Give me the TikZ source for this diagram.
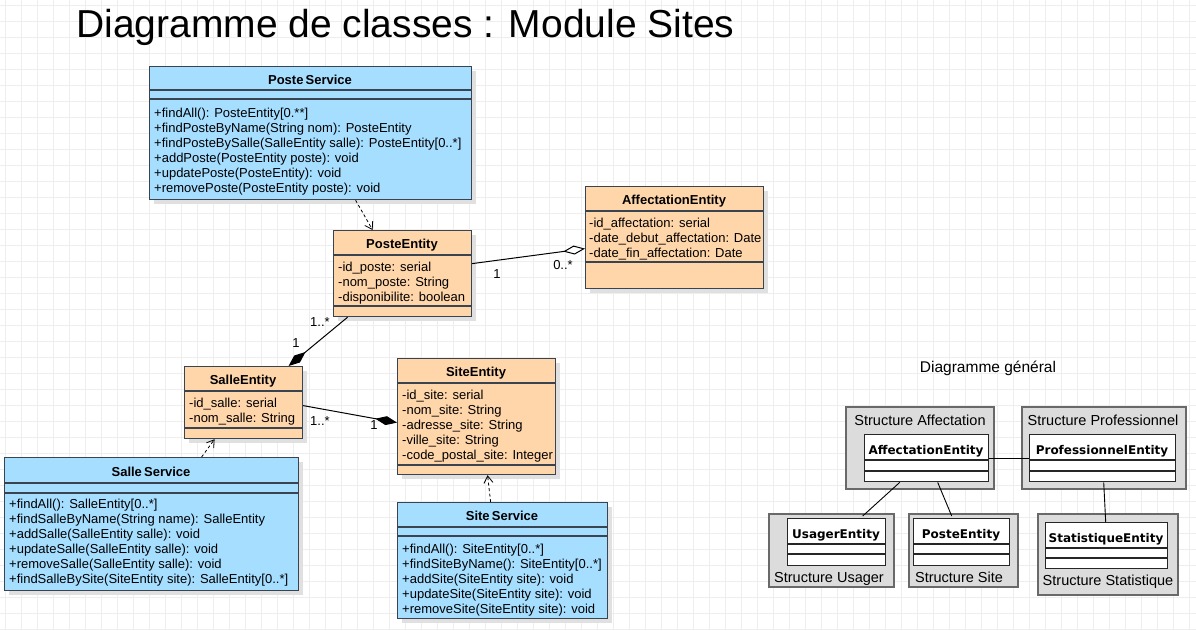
\documentclass[tikz,border=0pt]{standalone}
\usepackage{fontspec}
\setmainfont{Liberation Sans}
\newfontfamily\minifont{DejaVu Sans}
\usepackage{tikz}
\usetikzlibrary{arrows,arrows.meta,shadows,positioning}

\definecolor{srvfill}{RGB}{166,222,255}
\definecolor{entfill}{RGB}{255,213,170}
\definecolor{clsborder}{RGB}{58,68,80}
\definecolor{pkgfill}{RGB}{220,220,220}
\definecolor{pkgborder}{RGB}{105,105,105}
\definecolor{gridgray}{RGB}{238,238,238}

\tikzset{
  cls/.style={draw=clsborder, line width=1.2pt, anchor=north west, inner sep=0pt,
    drop shadow={shadow xshift=4pt, shadow yshift=-4pt, fill=black!12, opacity=1}},
  service/.style={cls, fill=srvfill},
  entity/.style={cls, fill=entfill},
  sepline/.style={draw=clsborder, line width=1.2pt},
  clsname/.style={anchor=base, inner sep=0pt, font=\bfseries\fontsize{13}{15}\selectfont},
  members/.style={anchor=north west, inner sep=0pt, align=left, font=\fontsize{13}{15}\selectfont},
  mult/.style={inner sep=0pt, font=\fontsize{13}{15}\selectfont},
  dep/.style={->, >={Straight Barb[length=7pt,width=9pt]}, dash pattern=on 3pt off 2.5pt, line width=0.8pt},
  compo/.style={-{Diamond[length=22pt,width=9pt]}, line width=1pt},
  aggreg/.style={-{Diamond[length=22pt,width=9pt,fill=white]}, line width=1pt},
  pkg/.style={draw=pkgborder, fill=pkgfill, line width=1.6pt, anchor=north west, inner sep=0pt},
  pkglabel/.style={anchor=base, inner sep=0pt, font=\fontsize{14.5}{16}\selectfont},
  minicls/.style={draw=black!85, fill=white, line width=1.4pt, anchor=north west, inner sep=0pt},
  mininame/.style={anchor=base, inner sep=0pt, font=\minifont\bfseries\fontsize{12}{14}\selectfont},
  miniline/.style={draw=black!85, line width=1.4pt},
  link/.style={line width=0.9pt},
}

\begin{document}
\begin{tikzpicture}[x=1pt, y=-1pt]
  \useasboundingbox (0,0) rectangle (1196,630);
  \fill[white] (0,0) rectangle (1196,630);
  \foreach \gx in {5,21,...,1196}
    \draw[gridgray, line width=0.6pt] (\gx,0) -- (\gx,630);
  \foreach \gy in {5,21,...,630}
    \draw[gridgray, line width=0.6pt] (0,\gy) -- (1196,\gy);

  % title
  \node[anchor=base west, inner sep=0pt, font=\fontsize{39}{44}\selectfont] (title) at (76,37)
    {Diagramme de classes : Module Sites};

  % PosteService
  \node[service, minimum width=322pt, minimum height=133pt] (posteService) at (149,66) {};
  \draw[sepline] (posteService.west |- 0,90) -- (posteService.east |- 0,90);
  \draw[sepline] (posteService.west |- 0,99) -- (posteService.east |- 0,99);
  \node[clsname] (posteServiceName) at (310,84) {Poste\,Service};
  \node[members] (posteServiceOps) at (154,107.5) {+findAll(): PosteEntity[0.**]\\
    +findPosteByName(String nom): PosteEntity\\
    +findPosteBySalle(SalleEntity salle): PosteEntity[0..*]\\
    +addPoste(PosteEntity poste): void\\
    +updatePoste(PosteEntity): void\\
    +removePoste(PosteEntity poste): void};

  % PosteEntity
  \node[entity, minimum width=138pt, minimum height=86pt] (posteEntity) at (333,230) {};
  \draw[sepline] (posteEntity.west |- 0,255) -- (posteEntity.east |- 0,255);
  \draw[sepline] (posteEntity.west |- 0,306) -- (posteEntity.east |- 0,306);
  \node[clsname] (posteEntityName) at (402,248) {PosteEntity};
  \node[members] (posteEntityAttrs) at (338,262) {-id\_poste: serial\\
    -nom\_poste: String\\
    -disponibilite: boolean};

  % AffectationEntity
  \node[entity, minimum width=178pt, minimum height=102pt] (affectationEntity) at (585,186) {};
  \draw[sepline] (affectationEntity.west |- 0,211) -- (affectationEntity.east |- 0,211);
  \draw[sepline] (affectationEntity.west |- 0,262) -- (affectationEntity.east |- 0,262);
  \node[clsname] (affectationEntityName) at (674,204) {AffectationEntity};
  \node[members] (affectationEntityAttrs) at (589,218) {-id\_affectation: serial\\
    -date\_debut\_affectation: Date\\
    -date\_fin\_affectation: Date};

  % SalleEntity
  \node[entity, minimum width=118pt, minimum height=72pt] (salleEntity) at (184,366) {};
  \draw[sepline] (salleEntity.west |- 0,391) -- (salleEntity.east |- 0,391);
  \draw[sepline] (salleEntity.west |- 0,428) -- (salleEntity.east |- 0,428);
  \node[clsname] (salleEntityName) at (243,384) {SalleEntity};
  \node[members] (salleEntityAttrs) at (189,398) {-id\_salle: serial\\
    -nom\_salle: String};

  % SiteEntity
  \node[entity, minimum width=158pt, minimum height=116pt] (siteEntity) at (397,358) {};
  \draw[sepline] (siteEntity.west |- 0,383) -- (siteEntity.east |- 0,383);
  \draw[sepline] (siteEntity.west |- 0,465) -- (siteEntity.east |- 0,465);
  \node[clsname] (siteEntityName) at (476,376) {SiteEntity};
  \node[members] (siteEntityAttrs) at (402,390) {-id\_site: serial\\
    -nom\_site: String\\
    -adresse\_site: String\\
    -ville\_site: String\\
    -code\_postal\_site: Integer};

  % SalleService
  \node[service, minimum width=294pt, minimum height=133pt] (salleService) at (4,457) {};
  \draw[sepline] (salleService.west |- 0,483) -- (salleService.east |- 0,483);
  \draw[sepline] (salleService.west |- 0,493) -- (salleService.east |- 0,493);
  \node[clsname] (salleServiceName) at (151,476) {Salle\,Service};
  \node[members] (salleServiceOps) at (9,499) {+findAll(): SalleEntity[0..*]\\
    +findSalleByName(String name): SalleEntity\\
    +addSalle(SalleEntity salle): void\\
    +updateSalle(SalleEntity salle): void\\
    +removeSalle(SalleEntity salle): void\\
    +findSalleBySite(SiteEntity site): SalleEntity[0..*]};

  % SiteService
  \node[service, minimum width=210pt, minimum height=116pt] (siteService) at (397,502) {};
  \draw[sepline] (siteService.west |- 0,527) -- (siteService.east |- 0,527);
  \draw[sepline] (siteService.west |- 0,536) -- (siteService.east |- 0,536);
  \node[clsname] (siteServiceName) at (502,520) {Site\,Service};
  \node[members] (siteServiceOps) at (402,544) {+findAll(): SiteEntity[0..*]\\
    +findSiteByName(): SiteEntity[0..*]\\
    +addSite(SiteEntity site): void\\
    +updateSite(SiteEntity site): void\\
    +removeSite(SiteEntity site): void};

  % relations
  \draw[dep] ([xshift=45pt]posteService.south) -- ([xshift=-30pt]posteEntity.north);
  \draw[dep] ([xshift=50pt]salleService.north) -- ([xshift=-29pt]salleEntity.south);
  \draw[dep] ([xshift=-12pt]siteService.north) -- ([xshift=11pt]siteEntity.south);
  \draw[aggreg] ([yshift=10pt]posteEntity.east) -- ([yshift=-11pt]affectationEntity.west);
  \draw[compo] ([xshift=-55pt]posteEntity.south) -- ([xshift=45pt]salleEntity.north);
  \draw[compo] ([yshift=-3pt]salleEntity.east) -- ([yshift=-6pt]siteEntity.west);

  \node[mult] (multPosteAff) at (497,274) {1};
  \node[mult] (multAffPoste) at (563,265) {0..*};
  \node[mult] (multPosteSalle) at (320,322) {1..*};
  \node[mult] (multSallePoste) at (296,343) {1};
  \node[mult] (multSalleSite) at (320,421) {1..*};
  \node[mult] (multSiteSalle) at (374,425) {1};

  % general diagram
  \node[font=\fontsize{15.5}{18}\selectfont, inner sep=0pt] (generalTitle) at (988,368) {Diagramme général};

  \node[pkg, minimum width=148pt, minimum height=82pt] (pkgAffectation) at (845,406) {};
  \node[pkglabel] (pkgAffectationLabel) at (920,425) {Structure Affectation};
  \node[pkg, minimum width=164pt, minimum height=82pt] (pkgProfessionnel) at (1021,406) {};
  \node[pkglabel] (pkgProfessionnelLabel) at (1103,425) {Structure Professionnel};
  \node[pkg, minimum width=125pt, minimum height=73pt] (pkgUsager) at (768,513) {};
  \node[pkglabel] (pkgUsagerLabel) at (829,582) {Structure Usager};
  \node[pkg, minimum width=109pt, minimum height=73pt] (pkgSite) at (908,513) {};
  \node[pkglabel] (pkgSiteLabel) at (959,582) {Structure Site};
  \node[pkg, minimum width=140pt, minimum height=81pt] (pkgStatistique) at (1037,513) {};
  \node[pkglabel] (pkgStatistiqueLabel) at (1108,585) {Structure Statistique};

  \node[minicls, minimum width=124pt, minimum height=47pt] (miniAffectation) at (864,434) {};
  \draw[miniline] (miniAffectation.west |- 0,460) -- (miniAffectation.east |- 0,460);
  \draw[miniline] (miniAffectation.west |- 0,471) -- (miniAffectation.east |- 0,471);
  \node[mininame] (miniAffectationName) at (926,454) {AffectationEntity};

  \node[minicls, minimum width=146pt, minimum height=47pt] (miniProfessionnel) at (1029,434) {};
  \draw[miniline] (miniProfessionnel.west |- 0,460) -- (miniProfessionnel.east |- 0,460);
  \draw[miniline] (miniProfessionnel.west |- 0,471) -- (miniProfessionnel.east |- 0,471);
  \node[mininame] (miniProfessionnelName) at (1102,454) {ProfessionnelEntity};

  \node[minicls, minimum width=98pt, minimum height=47pt] (miniUsager) at (787,518) {};
  \draw[miniline] (miniUsager.west |- 0,544) -- (miniUsager.east |- 0,544);
  \draw[miniline] (miniUsager.west |- 0,554) -- (miniUsager.east |- 0,554);
  \node[mininame] (miniUsagerName) at (836,538) {UsagerEntity};

  \node[minicls, minimum width=96pt, minimum height=47pt] (miniPoste) at (913,518) {};
  \draw[miniline] (miniPoste.west |- 0,544) -- (miniPoste.east |- 0,544);
  \draw[miniline] (miniPoste.west |- 0,554) -- (miniPoste.east |- 0,554);
  \node[mininame] (miniPosteName) at (961,538) {PosteEntity};

  \node[minicls, minimum width=122pt, minimum height=46pt] (miniStatistique) at (1045,522) {};
  \draw[miniline] (miniStatistique.west |- 0,548) -- (miniStatistique.east |- 0,548);
  \draw[miniline] (miniStatistique.west |- 0,558) -- (miniStatistique.east |- 0,558);
  \node[mininame] (miniStatistiqueName) at (1106,542) {StatistiqueEntity};

  \draw[link] (miniAffectation) -- (miniProfessionnel);
  \draw[link] ([xshift=-27pt]miniAffectation.south) -- ([xshift=26pt,yshift=2pt]miniUsager.north);
  \draw[link] ([xshift=11pt]miniAffectation.south) -- ([xshift=-10pt,yshift=2pt]miniPoste.north);
  \draw[link] ([xshift=1pt]miniProfessionnel.south) -- ([xshift=-1pt]miniStatistique.north);
\end{tikzpicture}
\end{document}
